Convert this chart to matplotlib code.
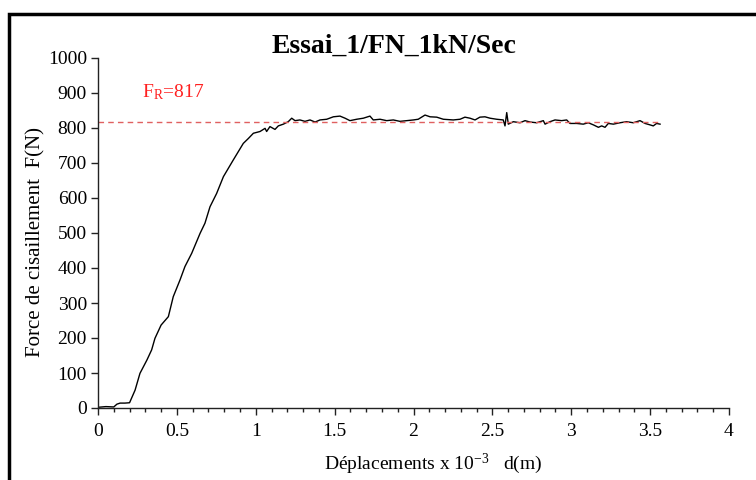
import matplotlib
matplotlib.use("Agg")
import matplotlib.pyplot as plt
from matplotlib.ticker import MultipleLocator
from matplotlib.patches import Rectangle

# Data
disp = [0.00, 0.05, 0.10, 0.12, 0.14, 0.17, 0.20, 0.235, 0.266, 0.31, 0.34, 0.361,
        0.40, 0.446, 0.477, 0.52, 0.551, 0.594, 0.647, 0.678, 0.71, 0.752, 0.795,
        0.858, 0.921, 0.953, 0.985, 1.027, 1.059, 1.069, 1.090, 1.122, 1.143,
        1.175, 1.206, 1.228, 1.249, 1.280, 1.312, 1.344, 1.376, 1.407, 1.450,
        1.492, 1.534, 1.566, 1.597, 1.640, 1.682, 1.724, 1.745, 1.788, 1.830,
        1.872, 1.914, 1.957, 1.999, 2.030, 2.073, 2.105, 2.147, 2.189, 2.252,
        2.295, 2.326, 2.358, 2.390, 2.421, 2.453, 2.485, 2.527, 2.569, 2.580,
        2.591, 2.601, 2.633, 2.675, 2.707, 2.739, 2.781, 2.823, 2.834, 2.865,
        2.897, 2.939, 2.971, 2.992, 3.035, 3.076, 3.108, 3.140, 3.172, 3.193,
        3.214, 3.235, 3.267, 3.309, 3.351, 3.393, 3.436, 3.468, 3.499, 3.520,
        3.541, 3.563]
force = [2, 4, 3, 11, 14, 14, 15, 51, 99, 137, 166, 199,
         237, 261, 318, 366, 404, 442, 499, 528, 575, 613, 661,
         709, 756, 770, 785, 790, 799, 790, 804, 796, 806,
         811, 818, 828, 821, 823, 819, 823, 817, 823, 825,
         832, 834, 828, 821, 825, 828, 834, 823, 825, 821,
         823, 819, 821, 823, 825, 837, 832, 831, 825, 823,
         825, 831, 828, 823, 831, 832, 828, 825, 823, 806,
         844, 811, 818, 815, 821, 817, 815, 821, 811, 818,
         823, 821, 823, 813, 813, 811, 815, 809, 802, 806,
         802, 813, 811, 815, 818, 815, 821, 813, 809, 806,
         813, 811]
f_rupture = 817
title = "Essai_1/FN_1kN/Sec"
xlabel = "Déplacements x 10$^{-3}$   d(m)"
ylabel = "Force de cisaillement  F(N)"
xticks = [0, 0.5, 1, 1.5, 2, 2.5, 3, 3.5, 4]
xticklabels = ["0", "0.5", "1", "1.5", "2", "2.5", "3", "3.5", "4"]

plt.rcParams['font.family'] = ['Liberation Serif', 'DejaVu Serif']
plt.rcParams['mathtext.fontset'] = 'custom'
plt.rcParams['mathtext.rm'] = 'Liberation Serif'
plt.rcParams['mathtext.it'] = 'Liberation Serif'

fig = plt.figure(figsize=(7.56, 4.8), dpi=100)
ax = fig.add_axes([98/756, 1 - 408/480, (729-98)/756, (408-58)/480])

ax.plot(disp, force, color='black', lw=1.0)
ax.plot([0, disp[-1]], [f_rupture, f_rupture], color='#e06060', lw=1.0,
        linestyle=(0, (4, 3)))
ax.text(0.28, 888, "F$_{\\mathrm{R}}$=817", color='#ff2020', fontsize=14,
        ha='left', va='baseline')

ax.set_xlim(0, 4)
ax.set_ylim(0, 1000)
ax.xaxis.set_minor_locator(MultipleLocator(0.1))
ax.yaxis.set_major_locator(MultipleLocator(100))
ax.set_xticks(xticks)
ax.set_xticklabels(xticklabels)
ax.tick_params(axis='both', which='major', direction='out', length=5, width=1,
               labelsize=14, color='#222222')
ax.tick_params(axis='x', which='minor', direction='out', length=3, width=1, color='#222222')
ax.tick_params(axis='x', pad=6)
ax.tick_params(axis='y', pad=3)
for s in ['top', 'right']:
    ax.spines[s].set_visible(False)
for s in ['left', 'bottom']:
    ax.spines[s].set_color('#222222')
    ax.spines[s].set_linewidth(1)

fig.text(272/756, 1 - 53/480, title, fontsize=20, fontweight='bold',
         ha='left', va='baseline')
fig.text(433/756, 1 - 464/480, xlabel, fontsize=14, ha='center', va='center')
fig.text(36/756, 1 - 242/480, ylabel, fontsize=15, ha='center', va='center',
         rotation=90)

fig.patches.append(Rectangle((9/756, -0.1), 1.1, 1 - 14/480 + 0.1,
                             transform=fig.transFigure, fill=False,
                             edgecolor='black', lw=2.5))

fig.savefig("out.png", dpi=100)
